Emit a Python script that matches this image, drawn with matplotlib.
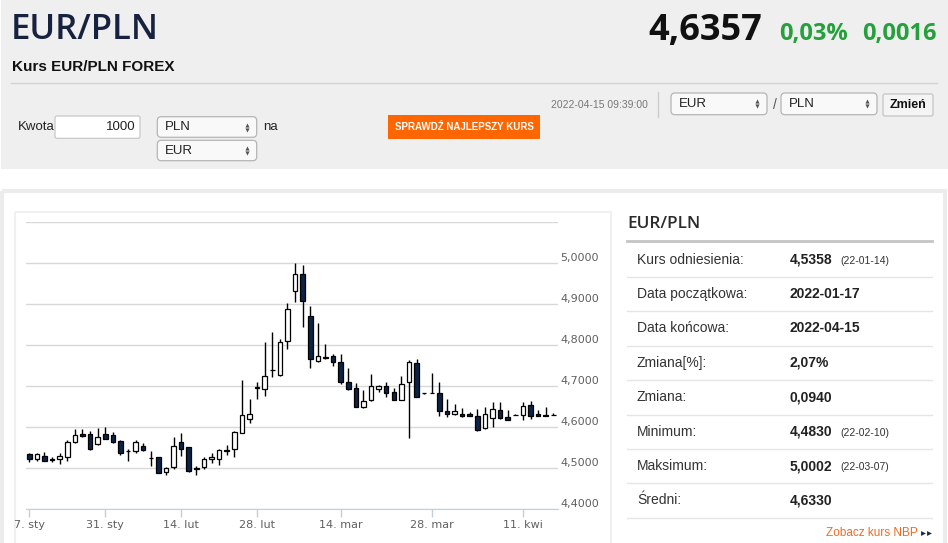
import matplotlib
matplotlib.use("Agg")
import matplotlib.pyplot as plt
from matplotlib.patches import Rectangle, FancyBboxPatch
import numpy as np

# Daily candles EUR/PLN, 2022-01-17 .. 2022-04-15
opens = [4.535, 4.522, 4.529, 4.522, 4.522, 4.527, 4.563, 4.583, 4.583, 4.559,
         4.583, 4.580, 4.567, 4.542, 4.541, 4.554, 4.525, 4.527, 4.492, 4.502,
         4.565, 4.551, 4.499, 4.504, 4.523, 4.523, 4.543, 4.546, 4.587, 4.620,
         4.697, 4.694, 4.739, 4.728, 4.810, 4.932, 4.975, 4.872, 4.762, 4.772,
         4.773, 4.759, 4.711, 4.695, 4.650, 4.667, 4.693, 4.701, 4.686, 4.667,
         4.711, 4.758, 4.684, 4.684, 4.684, 4.639, 4.632, 4.632, 4.632, 4.627,
         4.598, 4.623, 4.641, 4.624, 4.631, 4.630, 4.654, 4.632, 4.631, 4.631]
highs = [4.538, 4.538, 4.540, 4.528, 4.538, 4.569, 4.595, 4.595, 4.592, 4.599,
         4.601, 4.588, 4.569, 4.546, 4.568, 4.562, 4.543, 4.528, 4.504, 4.576,
         4.585, 4.553, 4.506, 4.528, 4.537, 4.546, 4.557, 4.591, 4.715, 4.670,
         4.710, 4.807, 4.833, 4.815, 4.902, 5.000, 4.996, 4.895, 4.854, 4.804,
         4.779, 4.779, 4.745, 4.707, 4.691, 4.730, 4.703, 4.711, 4.697, 4.726,
         4.764, 4.767, 4.684, 4.732, 4.711, 4.670, 4.656, 4.646, 4.638, 4.644,
         4.649, 4.662, 4.661, 4.641, 4.632, 4.661, 4.664, 4.641, 4.649, 4.634]
lows = [4.515, 4.518, 4.517, 4.515, 4.510, 4.517, 4.561, 4.577, 4.545, 4.556,
        4.571, 4.561, 4.533, 4.519, 4.538, 4.543, 4.506, 4.489, 4.483, 4.499,
        4.530, 4.492, 4.484, 4.498, 4.512, 4.508, 4.533, 4.527, 4.585, 4.610,
        4.669, 4.676, 4.723, 4.726, 4.792, 4.906, 4.844, 4.745, 4.760, 4.766,
        4.750, 4.706, 4.690, 4.649, 4.648, 4.665, 4.686, 4.674, 4.666, 4.667,
        4.575, 4.674, 4.682, 4.683, 4.628, 4.626, 4.631, 4.626, 4.627, 4.592,
        4.597, 4.601, 4.621, 4.619, 4.630, 4.618, 4.620, 4.628, 4.628, 4.629]
closes = [4.522, 4.535, 4.519, 4.521, 4.531, 4.563, 4.580, 4.580, 4.548, 4.577,
          4.572, 4.563, 4.537, 4.541, 4.565, 4.544, 4.524, 4.489, 4.501, 4.554,
          4.546, 4.494, 4.500, 4.523, 4.528, 4.544, 4.544, 4.589, 4.629, 4.632,
          4.698, 4.726, 4.740, 4.809, 4.889, 4.975, 4.908, 4.766, 4.774, 4.769,
          4.759, 4.711, 4.693, 4.650, 4.665, 4.701, 4.701, 4.684, 4.667, 4.705,
          4.759, 4.675, 4.683, 4.683, 4.640, 4.632, 4.639, 4.627, 4.628, 4.593,
          4.632, 4.645, 4.623, 4.619, 4.631, 4.653, 4.628, 4.628, 4.628, 4.630]

tick_idx = [0, 10, 20, 30, 41, 53, 65]
tick_labels = ["7. sty", "31. sty", "14. lut", "28. lut", "14. mar", "28. mar", "11. kwi"]
y_ticks = [4.4, 4.5, 4.6, 4.7, 4.8, 4.9, 5.0, 5.1]

stat_labels = ["Kurs odniesienia:", "Data początkowa:", "Data końcowa:", "Zmiana[%]:",
               "Zmiana:", "Minimum:", "Maksimum:", "Średni:"]
stat_values = ["4,5358", "2022-01-17", "2022-04-15", "2,07%", "0,0940", "4,4830", "5,0002", "4,6330"]
stat_dates = ["(22-01-14)", "", "", "", "", "(22-02-10)", "(22-03-07)", ""]

W, H = 948, 543
fig = plt.figure(figsize=(W / 100, H / 100), dpi=100)
bg = fig.add_axes([0, 0, 1, 1])
bg.set_xlim(0, W)
bg.set_ylim(H, 0)
bg.axis("off")

SANS = "Liberation Sans"
HEAD = "Open Sans"
GREEN = "#25a03c"

# header block
bg.add_patch(Rectangle((1, 0), W - 1, 169, fc="#efefef", ec="none"))
bg.plot([11, 937], [83.3, 83.3], color="#d3d3d3", lw=1)
bg.text(11, 30, "EUR/PLN", family=HEAD, weight="semibold", fontsize=25, color="#16223f",
        ha="left", va="center")
bg.text(12, 67, "Kurs EUR/PLN FOREX", family=SANS, weight="bold", fontsize=11, color="#111",
        ha="left", va="center")
bg.text(762, 31, "4,6357", family=HEAD, weight="bold", fontsize=26, color="#111",
        ha="right", va="center")
bg.text(848, 34, "0,03%", family=HEAD, weight="bold", fontsize=17, color=GREEN,
        ha="right", va="center")
bg.text(937, 34, "0,0016", family=HEAD, weight="bold", fontsize=17, color=GREEN,
        ha="right", va="center")


def select_box(x0, y0, x1, y1, label):
    bg.add_patch(FancyBboxPatch((x0, y0), x1 - x0, y1 - y0,
                                boxstyle="round,pad=0,rounding_size=4",
                                fc="#f9f9f9", ec="#b5b5b5", lw=0.9))
    bg.text(x0 + 8, (y0 + y1) / 2, label, family=SANS, fontsize=9.5, color="#222",
            ha="left", va="center")
    ym = (y0 + y1) / 2
    bg.plot([x1 - 10], [ym - 2.5], marker="^", ms=3, color="#555", mec="none")
    bg.plot([x1 - 10], [ym + 2.5], marker="v", ms=3, color="#555", mec="none")


# controls row
bg.text(648, 105, "2022-04-15 09:39:00", family=SANS, fontsize=7.5, color="#777",
        ha="right", va="center")
bg.plot([658, 658], [92, 117], color="#cccccc", lw=1)
select_box(671, 93, 767, 114.7, "EUR")
bg.text(775, 105, "/", family=SANS, fontsize=10, color="#555", ha="center", va="center")
select_box(781, 93, 877, 114.7, "PLN")
bg.add_patch(FancyBboxPatch((883, 94), 50, 22, boxstyle="round,pad=0,rounding_size=2",
                            fc="#f4f4f4", ec="#c4c4c4", lw=0.9))
bg.text(908, 105.5, "Zmień", family=SANS, weight="bold", fontsize=9, color="#111",
        ha="center", va="center")

bg.text(18, 127.5, "Kwota", family=SANS, fontsize=9.5, color="#222", ha="left", va="center")
bg.add_patch(FancyBboxPatch((55, 116), 85, 22.3, boxstyle="round,pad=0,rounding_size=2",
                            fc="white", ec="#c8c8c8", lw=0.9))
bg.text(136, 127.5, "1000", family=SANS, fontsize=9.5, color="#222", ha="right", va="center")
select_box(157.3, 116.7, 256.7, 137.3, "PLN")
bg.text(263, 127, "na", family=SANS, fontsize=9.5, color="#222", ha="left", va="center")
select_box(157.3, 140.3, 256.7, 160.7, "EUR")
bg.add_patch(Rectangle((388, 115), 152, 23.7, fc="#ff6600", ec="none"))
bg.text(464, 127, "SPRAWDŹ NAJLEPSZY KURS", family=SANS, weight="bold", fontsize=7,
        color="white", ha="center", va="center")

# frames
bg.add_patch(Rectangle((2, 190.5), 943, 360, fc="none", ec="#ececec", lw=3))
bg.add_patch(Rectangle((15.5, 211.5), 595.5, 340, fc="none", ec="#f0f0f0", lw=1.5))

# stats table
bg.text(627, 224, "EUR/PLN", family=HEAD, weight="semibold", fontsize=12.3, color="#2b2b2b",
        ha="left", va="center")
bg.plot([627, 932], [241, 241], color="#c4c4c4", lw=2)
row_top = 242.5
row_h = 34.4
for i, lab in enumerate(stat_labels):
    yc = row_top + row_h * (i + 0.5)
    bg.text(637, yc, lab, family=SANS, fontsize=10, color="#333", ha="left", va="center")
    bg.text(790, yc, stat_values[i], family=SANS, weight="bold", fontsize=10, color="#222",
            ha="left", va="center")
    if stat_dates[i]:
        bg.text(840, yc + 1, stat_dates[i], family=SANS, fontsize=7.5, color="#333",
                ha="left", va="center")
    bg.plot([627, 932], [row_top + row_h * (i + 1)] * 2, color="#e6e6e6", lw=1)
bg.text(918, 533, "Zobacz kurs NBP", family=SANS, fontsize=8.5, color="#f26a22",
        ha="right", va="center")
bg.plot([923.5, 929], [533, 533], ls="none", marker=">", ms=3.5, color="#1b2a47", mec="none")

# candlestick chart
px_step = 7.594
left_px, right_px, top_px, bot_px = 26, 558, 222.3, 509.3
ax = fig.add_axes([left_px / W, 1 - bot_px / H, (right_px - left_px) / W, (bot_px - top_px) / H])
ax.patch.set_alpha(0)
ax.set_xlim(-(29.3 - left_px) / px_step, (right_px - 29.3) / px_step)
ax.set_ylim(4.4, 5.1)

o = np.array(opens)
c = np.array(closes)
idx = np.arange(len(o))
ax.vlines(idx, lows, highs, color="black", lw=1, zorder=3)
fills = ["white" if cc > oo else "#0b2345" for oo, cc in zip(o, c)]
ax.bar(idx, np.abs(c - o), bottom=np.minimum(o, c), width=0.6, color=fills,
       edgecolor="black", linewidth=0.9, zorder=4)

ax.set_yticks(y_ticks)
ax.set_yticklabels([f"{v:.4f}".replace(".", ",") for v in y_ticks[:-1]] + [""], va="bottom")
ax.yaxis.tick_right()
ax.tick_params(axis="y", length=0, pad=1.5, labelsize=8, labelcolor="#606060")
ax.grid(axis="y", color="#d8d8d8", lw=1)
ax.set_xticks(tick_idx)
ax.set_xticklabels(tick_labels)
ax.tick_params(axis="x", direction="out", length=6, width=1, color="#c0d0e0",
               labelsize=8, labelcolor="#606060", pad=2)
for side in ("top", "left", "right"):
    ax.spines[side].set_visible(False)
ax.spines["bottom"].set_color("#c0d0e0")
ax.set_axisbelow(True)

fig.savefig("out.png", dpi=100)
